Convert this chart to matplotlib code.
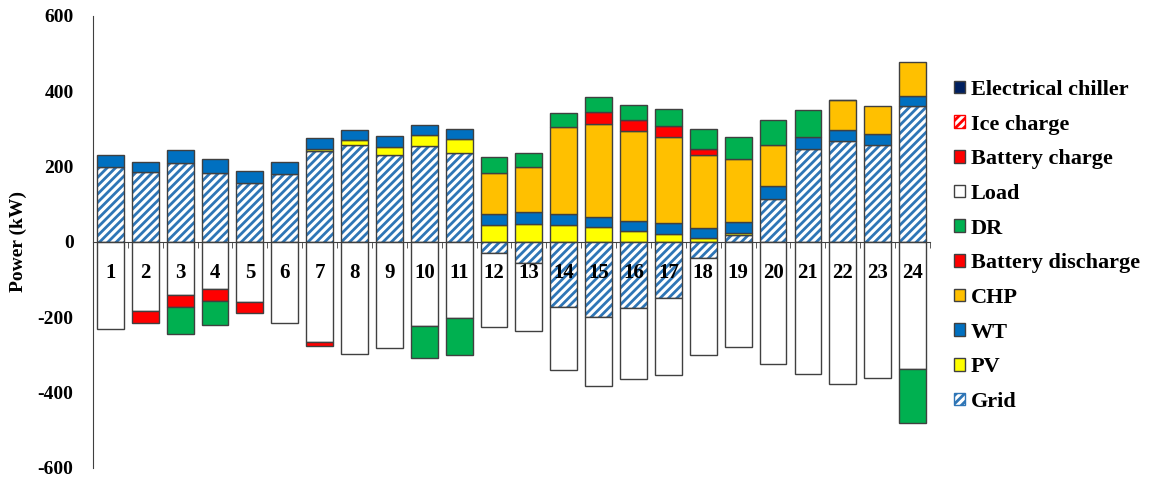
import numpy as np
import matplotlib.pyplot as plt
from matplotlib.patches import Patch

hours = np.arange(1, 25)

# supply side (kW, positive)
grid_in = [198, 185, 210, 184, 157, 181, 241, 258, 231, 254, 235, 0,
           0, 0, 0, 0, 0, 0, 19, 115, 248, 267, 257, 360]
pv = [0, 0, 0, 0, 0, 0, 6, 12, 21, 31, 39, 45,
      49, 46, 39, 29, 22, 10, 4, 0, 0, 0, 0, 0]
wt = [34, 28, 33, 35, 31, 32, 28, 27, 30, 25, 25, 30,
      31, 27, 27, 26, 29, 26, 31, 33, 31, 30, 30, 27]
chp = [0, 0, 0, 0, 0, 0, 0, 0, 0, 0, 0, 109,
       119, 233, 248, 239, 227, 196, 166, 109, 0, 79, 75, 92]
batt_dis = [0, 0, 0, 0, 0, 0, 0, 0, 0, 0, 0, 0,
            0, 0, 31, 31, 31, 15, 0, 0, 0, 0, 0, 0]
dr_up = [0, 0, 0, 0, 0, 0, 0, 0, 0, 0, 0, 42,
         38, 36, 39, 39, 43, 52, 58, 66, 71, 0, 0, 0]
chiller = [0] * 21 + [2, 0, 0]

# demand side (kW, negative)
grid_out = [0] * 11 + [-29, -57, -173, -200, -175, -150, -42] + [0] * 6
load = [-232, -184, -142, -126, -158, -214, -266, -297, -282, -222, -201, -197,
        -178, -168, -183, -188, -202, -257, -278, -323, -350, -376, -361, -338]
batt_ch = [0, -30, -30, -31, -31, 0, -9] + [0] * 17
ice_ch = [0] * 24
dr_down = [0, 0, -72, -63, 0, 0, 0, 0, 0, -87, -98] + [0] * 12 + [-142]

plt.rcParams['font.family'] = 'Liberation Serif'
plt.rcParams['font.weight'] = 'bold'
plt.rcParams['axes.unicode_minus'] = False
plt.rcParams['hatch.linewidth'] = 2.0

edge = '#404040'
blue_hatch = '#2E75B6'
w = 0.77

fig = plt.figure(figsize=(11.58, 4.8), dpi=100)
ax = fig.add_axes([0.0803, 0.025, 0.7228, 0.9417])


def stack(vals, base, color, hatch=None, hcolor=None):
    vals = np.asarray(vals, float)
    m = vals != 0
    if hatch:
        ax.bar(hours[m], vals[m], w, bottom=base[m], color='white',
               edgecolor=hcolor, hatch=hatch, linewidth=0)
        ax.bar(hours[m], vals[m], w, bottom=base[m], fill=False,
               edgecolor=edge, linewidth=1)
    else:
        ax.bar(hours[m], vals[m], w, bottom=base[m], color=color,
               edgecolor=edge, linewidth=1)
    return base + vals


pos = np.zeros(24)
pos = stack(grid_in, pos, None, '////', blue_hatch)
pos = stack(pv, pos, '#FFFF00')
pos = stack(wt, pos, '#0070C0')
pos = stack(chp, pos, '#FFC000')
pos = stack(batt_dis, pos, '#FF0000')
pos = stack(dr_up, pos, '#00B050')
pos = stack(chiller, pos, '#002060')

neg = np.zeros(24)
neg = stack(grid_out, neg, None, '////', blue_hatch)
neg = stack(load, neg, 'white')
neg = stack(batt_ch, neg, '#FF0000')
neg = stack(ice_ch, neg, None, '////', '#FF0000')
neg = stack(dr_down, neg, '#00B050')

ax.set_xlim(0.5, 24.5)
ax.set_ylim(-600, 600)
ax.set_yticks(np.arange(-600, 601, 200))
ax.tick_params(axis='y', length=0, pad=14, labelsize=14)
ax.set_xticks(hours)
ax.set_xticks(np.arange(0.5, 25, 1), minor=True)
ax.tick_params(axis='x', which='major', length=0, pad=15, labelsize=15)
ax.tick_params(axis='x', which='minor', length=4, direction='out', color=edge)

ax.spines['top'].set_visible(False)
ax.spines['right'].set_visible(False)
ax.spines['bottom'].set_position(('data', 0))
ax.spines['bottom'].set_color(edge)
ax.spines['left'].set_color(edge)

ax.set_ylabel('Power (kW)', fontsize=14, fontweight='bold')
ax.yaxis.set_label_coords(-0.079, 0.5)

handles = [
    Patch(facecolor='#002060', edgecolor=edge, label='Electrical chiller'),
    Patch(facecolor='white', edgecolor='#FF0000', hatch='////', label='Ice charge'),
    Patch(facecolor='#FF0000', edgecolor=edge, label='Battery charge'),
    Patch(facecolor='white', edgecolor=edge, label='Load'),
    Patch(facecolor='#00B050', edgecolor=edge, label='DR'),
    Patch(facecolor='#FF0000', edgecolor=edge, label='Battery discharge'),
    Patch(facecolor='#FFC000', edgecolor=edge, label='CHP'),
    Patch(facecolor='#0070C0', edgecolor=edge, label='WT'),
    Patch(facecolor='#FFFF00', edgecolor=edge, label='PV'),
    Patch(facecolor='white', edgecolor=blue_hatch, hatch='////', label='Grid'),
]
fig.legend(handles=handles, loc='upper left', bbox_to_anchor=(0.8161, 0.852),
           frameon=False, fontsize=16, handlelength=0.5, handleheight=0.5,
           handletextpad=0.25, labelspacing=0.66, borderaxespad=0)

fig.savefig('out.png', dpi=100)
